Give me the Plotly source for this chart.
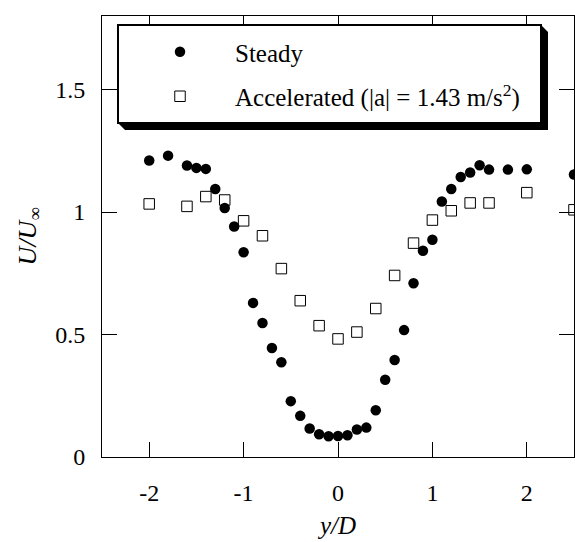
import plotly.graph_objects as go

# Wake velocity profiles behind the cylinder
y_over_d_steady = [-2.0, -1.8, -1.6, -1.5, -1.4, -1.3, -1.2, -1.1, -1.0, -0.9,
                   -0.8, -0.7, -0.6, -0.5, -0.4, -0.3, -0.2, -0.1, 0.0, 0.1,
                   0.2, 0.3, 0.4, 0.5, 0.6, 0.7, 0.8, 0.9, 1.0, 1.1,
                   1.2, 1.3, 1.4, 1.5, 1.6, 1.8, 2.0, 2.5]
u_steady = [1.21, 1.23, 1.19, 1.18, 1.176, 1.094, 1.016, 0.941, 0.836, 0.629,
            0.547, 0.445, 0.387, 0.228, 0.168, 0.116, 0.093, 0.085, 0.086, 0.089,
            0.112, 0.12, 0.191, 0.315, 0.396, 0.518, 0.709, 0.842, 0.887, 1.043,
            1.094, 1.143, 1.161, 1.191, 1.173, 1.173, 1.174, 1.153]

y_over_d_accel = [-2.0, -1.6, -1.4, -1.2, -1.0, -0.8, -0.6, -0.4, -0.2, 0.0,
                  0.2, 0.4, 0.6, 0.8, 1.0, 1.2, 1.4, 1.6, 2.0, 2.5]
u_accel = [1.033, 1.023, 1.063, 1.049, 0.964, 0.903, 0.769, 0.638, 0.536, 0.482,
           0.51, 0.606, 0.741, 0.873, 0.967, 1.005, 1.037, 1.037, 1.079, 1.009]

x_ticks = [-2, -1, 0, 1, 2]
x_tick_text = ["-2", "-1", "0", "1", "2"]
y_ticks = [0, 0.5, 1, 1.5]
y_tick_text = ["0", "0.5", "1", "1.5"]

W, H = 575, 542
ML, MR, MT, MB = 102, 1, 16, 85
PW, PH = W - ML - MR, H - MT - MB


def px(x):
    return (x - ML) / PW


def py(y):
    return (H - MB - y) / PH


FONT = "Liberation Serif, Times New Roman, serif"

fig = go.Figure()
fig.add_trace(go.Scatter(
    x=y_over_d_steady, y=u_steady, mode="markers", name="Steady",
    legendgroup="s",
    marker=dict(symbol="circle", size=10.5, color="black", line=dict(width=0)),
))
fig.add_trace(go.Scatter(
    x=y_over_d_accel, y=u_accel, mode="markers",
    name="Accelerated (|a| = 1.43 m/s<sup>2</sup>)", legendgroup="a",
    marker=dict(symbol="square-open", size=10.5, color="black",
                line=dict(width=1, color="black")),
))

# legend frame with drop shadow
x0, x1, y0, y1, d = 118, 541, 25, 123, 7
shadow = (f"M {px(x0)} {py(y1)} L {px(x0 + d)} {py(y1 + d)} "
          f"L {px(x1 + d)} {py(y1 + d)} L {px(x1 + d)} {py(y0 + d)} "
          f"L {px(x1)} {py(y0)} Z")
fig.add_shape(type="path", xref="paper", yref="paper", path=shadow,
              fillcolor="black", line=dict(width=0), layer="above")
fig.add_shape(type="rect", xref="paper", yref="paper",
              x0=px(x0), x1=px(x1), y0=py(y1), y1=py(y0),
              fillcolor="white", line=dict(color="black", width=2),
              layer="above")

axis_common = dict(
    showgrid=False, zeroline=False, showline=True, linecolor="black",
    linewidth=1, mirror="ticks", ticks="inside", ticklen=15, tickwidth=1,
    tickcolor="black", tickfont=dict(family=FONT, size=24, color="black"),
)

fig.update_layout(
    width=W, height=H,
    margin=dict(l=ML, r=MR, t=MT, b=MB),
    paper_bgcolor="white", plot_bgcolor="white",
    showlegend=True,
    legend=dict(
        x=px(125), y=py(29), xanchor="left", yanchor="top",
        bgcolor="rgba(0,0,0,0)", borderwidth=0,
        font=dict(family=FONT, size=25, color="black"),
        itemwidth=100, tracegroupgap=9,
    ),
    xaxis=dict(
        range=[-2.5, 2.5], tickvals=x_ticks, ticktext=x_tick_text,
        ticklabelstandoff=14,
        title=dict(text="<i>y/D</i>", font=dict(family=FONT, size=25, color="black"),
                   standoff=11),
        **axis_common,
    ),
    yaxis=dict(
        range=[0, 1.8], tickvals=y_ticks, ticktext=y_tick_text,
        ticklabelstandoff=11,
        title=dict(text="<i>U/U</i><sub>∞</sub>",
                   font=dict(family=FONT, size=26, color="black"), standoff=11),
        **axis_common,
    ),
)

fig.write_html("out.html")
